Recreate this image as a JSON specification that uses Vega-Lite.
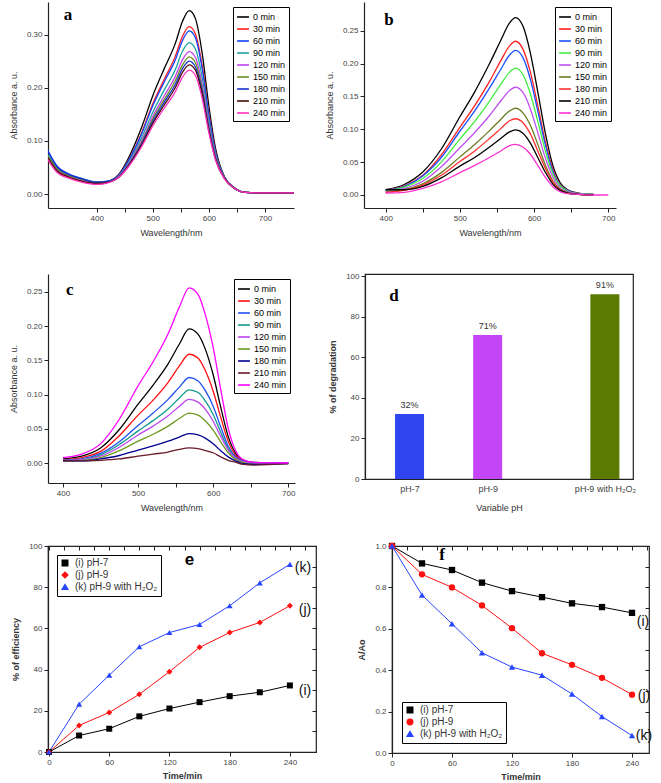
{
"$schema": "https://vega.github.io/schema/vega-lite/v6.json",
"padding": {"left": 9, "top": 2, "right": 0, "bottom": 0},
"background": "white",
"spacing": 34,
"config": {
  "font": "Liberation Sans",
  "view": {"stroke": null},
  "axis": {"grid": false, "labelFontSize": 8, "labelColor": "#444", "titleFontSize": 9, "titleFontWeight": "normal", "titleColor": "#333", "domainColor": "#222", "tickColor": "#222", "tickSize": 4, "domainWidth": 1.2, "labelPadding": 2, "labelFlush": false, "labelOverlap": false}
},
"datasets": {
  "specA": [
    {"w":313,"0 min":0.072,"30 min":0.066,"60 min":0.082,"90 min":0.074,"120 min":0.070,"150 min":0.072,"180 min":0.080,"210 min":0.068,"240 min":0.065},
    {"w":330,"0 min":0.047,"30 min":0.042,"60 min":0.052,"90 min":0.048,"120 min":0.045,"150 min":0.047,"180 min":0.050,"210 min":0.043,"240 min":0.040},
    {"w":350,"0 min":0.035,"30 min":0.031,"60 min":0.038,"90 min":0.036,"120 min":0.034,"150 min":0.035,"180 min":0.037,"210 min":0.032,"240 min":0.030},
    {"w":375,"0 min":0.027,"30 min":0.023,"60 min":0.029,"90 min":0.028,"120 min":0.026,"150 min":0.027,"180 min":0.028,"210 min":0.024,"240 min":0.022},
    {"w":400,"0 min":0.022,"30 min":0.019,"60 min":0.023,"90 min":0.022,"120 min":0.021,"150 min":0.022,"180 min":0.022,"210 min":0.020,"240 min":0.018},
    {"w":420,"0 min":0.024,"30 min":0.022,"60 min":0.024,"90 min":0.024,"120 min":0.023,"150 min":0.023,"180 min":0.024,"210 min":0.022,"240 min":0.021},
    {"w":440,"0 min":0.038,"30 min":0.036,"60 min":0.036,"90 min":0.035,"120 min":0.034,"150 min":0.033,"180 min":0.033,"210 min":0.032,"240 min":0.032},
    {"w":460,"0 min":0.075,"30 min":0.070,"60 min":0.069,"90 min":0.065,"120 min":0.062,"150 min":0.060,"180 min":0.059,"210 min":0.058,"240 min":0.056},
    {"w":480,"0 min":0.125,"30 min":0.115,"60 min":0.113,"90 min":0.106,"120 min":0.100,"150 min":0.097,"180 min":0.094,"210 min":0.092,"240 min":0.089},
    {"w":500,"0 min":0.185,"30 min":0.170,"60 min":0.166,"90 min":0.154,"120 min":0.146,"150 min":0.141,"180 min":0.137,"210 min":0.133,"240 min":0.128},
    {"w":520,"0 min":0.235,"30 min":0.215,"60 min":0.210,"90 min":0.195,"120 min":0.184,"150 min":0.177,"180 min":0.172,"210 min":0.167,"240 min":0.161},
    {"w":540,"0 min":0.283,"30 min":0.259,"60 min":0.252,"90 min":0.234,"120 min":0.221,"150 min":0.213,"180 min":0.206,"210 min":0.200,"240 min":0.192},
    {"w":553,"0 min":0.325,"30 min":0.297,"60 min":0.289,"90 min":0.269,"120 min":0.253,"150 min":0.243,"180 min":0.236,"210 min":0.229,"240 min":0.220},
    {"w":565,"0 min":0.345,"30 min":0.315,"60 min":0.307,"90 min":0.285,"120 min":0.268,"150 min":0.258,"180 min":0.250,"210 min":0.243,"240 min":0.233},
    {"w":576,"0 min":0.330,"30 min":0.301,"60 min":0.294,"90 min":0.273,"120 min":0.257,"150 min":0.247,"180 min":0.239,"210 min":0.233,"240 min":0.223},
    {"w":588,"0 min":0.265,"30 min":0.242,"60 min":0.236,"90 min":0.220,"120 min":0.207,"150 min":0.199,"180 min":0.193,"210 min":0.188,"240 min":0.180},
    {"w":600,"0 min":0.165,"30 min":0.152,"60 min":0.148,"90 min":0.138,"120 min":0.131,"150 min":0.126,"180 min":0.123,"210 min":0.119,"240 min":0.115},
    {"w":612,"0 min":0.085,"30 min":0.079,"60 min":0.077,"90 min":0.073,"120 min":0.070,"150 min":0.068,"180 min":0.066,"210 min":0.065,"240 min":0.063},
    {"w":628,"0 min":0.032,"30 min":0.031,"60 min":0.031,"90 min":0.030,"120 min":0.030,"150 min":0.029,"180 min":0.029,"210 min":0.029,"240 min":0.028},
    {"w":645,"0 min":0.012,"30 min":0.012,"60 min":0.012,"90 min":0.012,"120 min":0.011,"150 min":0.011,"180 min":0.011,"210 min":0.011,"240 min":0.011},
    {"w":665,"0 min":0.003,"30 min":0.003,"60 min":0.003,"90 min":0.003,"120 min":0.003,"150 min":0.003,"180 min":0.003,"210 min":0.003,"240 min":0.003},
    {"w":700,"0 min":0.002,"30 min":0.002,"60 min":0.002,"90 min":0.002,"120 min":0.002,"150 min":0.002,"180 min":0.002,"210 min":0.002,"240 min":0.002},
    {"w":752,"0 min":0.002,"30 min":0.002,"60 min":0.002,"90 min":0.002,"120 min":0.002,"150 min":0.002,"180 min":0.002,"210 min":0.002,"240 min":0.002}
  ],
  "specB": [
    {"w":400,"0 min":0.008,"30 min":0.007,"60 min":0.007,"90 min":0.006,"120 min":0.005,"150 min":0.004,"180 min":0.004,"210 min":0.008,"240 min":0.003},
    {"w":425,"0 min":0.016,"30 min":0.014,"60 min":0.013,"90 min":0.012,"120 min":0.010,"150 min":0.008,"180 min":0.007,"210 min":0.008,"240 min":0.004},
    {"w":450,"0 min":0.035,"30 min":0.030,"60 min":0.029,"90 min":0.025,"120 min":0.021,"150 min":0.017,"180 min":0.015,"210 min":0.013,"240 min":0.010},
    {"w":475,"0 min":0.070,"30 min":0.061,"60 min":0.057,"90 min":0.050,"120 min":0.043,"150 min":0.034,"180 min":0.030,"210 min":0.026,"240 min":0.020},
    {"w":500,"0 min":0.119,"30 min":0.103,"60 min":0.097,"90 min":0.085,"120 min":0.072,"150 min":0.058,"180 min":0.051,"210 min":0.044,"240 min":0.034},
    {"w":520,"0 min":0.157,"30 min":0.136,"60 min":0.128,"90 min":0.112,"120 min":0.095,"150 min":0.077,"180 min":0.067,"210 min":0.057,"240 min":0.045},
    {"w":540,"0 min":0.200,"30 min":0.173,"60 min":0.163,"90 min":0.143,"120 min":0.121,"150 min":0.098,"180 min":0.086,"210 min":0.073,"240 min":0.057},
    {"w":555,"0 min":0.235,"30 min":0.204,"60 min":0.191,"90 min":0.168,"120 min":0.143,"150 min":0.115,"180 min":0.101,"210 min":0.086,"240 min":0.067},
    {"w":567,"0 min":0.262,"30 min":0.227,"60 min":0.213,"90 min":0.187,"120 min":0.159,"150 min":0.128,"180 min":0.113,"210 min":0.096,"240 min":0.075},
    {"w":575,"0 min":0.270,"30 min":0.234,"60 min":0.220,"90 min":0.193,"120 min":0.164,"150 min":0.132,"180 min":0.116,"210 min":0.099,"240 min":0.077},
    {"w":585,"0 min":0.257,"30 min":0.222,"60 min":0.209,"90 min":0.183,"120 min":0.156,"150 min":0.125,"180 min":0.110,"210 min":0.094,"240 min":0.073},
    {"w":595,"0 min":0.216,"30 min":0.187,"60 min":0.176,"90 min":0.154,"120 min":0.131,"150 min":0.106,"180 min":0.093,"210 min":0.079,"240 min":0.062},
    {"w":605,"0 min":0.157,"30 min":0.136,"60 min":0.128,"90 min":0.112,"120 min":0.095,"150 min":0.077,"180 min":0.067,"210 min":0.057,"240 min":0.045},
    {"w":615,"0 min":0.095,"30 min":0.082,"60 min":0.077,"90 min":0.068,"120 min":0.057,"150 min":0.046,"180 min":0.041,"210 min":0.035,"240 min":0.027},
    {"w":625,"0 min":0.046,"30 min":0.040,"60 min":0.037,"90 min":0.033,"120 min":0.028,"150 min":0.022,"180 min":0.020,"210 min":0.017,"240 min":0.013},
    {"w":635,"0 min":0.019,"30 min":0.016,"60 min":0.015,"90 min":0.014,"120 min":0.011,"150 min":0.009,"180 min":0.008,"210 min":0.007,"240 min":0.005},
    {"w":645,"0 min":0.008,"30 min":0.007,"60 min":0.007,"90 min":0.006,"120 min":0.005,"150 min":0.004,"180 min":0.003,"210 min":0.003,"240 min":0.002},
    {"w":660,"0 min":0.003,"30 min":0.002,"60 min":0.002,"90 min":0.002,"120 min":0.002,"150 min":0.001,"180 min":0.001,"210 min":0.001,"240 min":0.001},
    {"w":680,"0 min":0.001,"30 min":0.001,"60 min":0.001,"90 min":0.001,"120 min":0.0,"150 min":0.0,"180 min":0.0,"210 min":0.0,"240 min":0.0},
    {"w":700,"0 min":null,"30 min":null,"60 min":null,"90 min":null,"120 min":null,"150 min":null,"180 min":null,"210 min":null,"240 min":0.0}
  ],
  "specC": [
    {"w":400,"0 min":0.006,"30 min":0.005,"60 min":0.004,"90 min":0.004,"120 min":0.004,"150 min":0.003,"180 min":0.003,"210 min":0.003,"240 min":0.008},
    {"w":425,"0 min":0.010,"30 min":0.008,"60 min":0.006,"90 min":0.005,"120 min":0.005,"150 min":0.004,"180 min":0.003,"210 min":0.003,"240 min":0.013},
    {"w":450,"0 min":0.022,"30 min":0.017,"60 min":0.014,"90 min":0.012,"120 min":0.010,"150 min":0.008,"180 min":0.006,"210 min":0.004,"240 min":0.028},
    {"w":475,"0 min":0.049,"30 min":0.040,"60 min":0.031,"90 min":0.027,"120 min":0.023,"150 min":0.018,"180 min":0.011,"210 min":0.006,"240 min":0.064},
    {"w":500,"0 min":0.086,"30 min":0.070,"60 min":0.055,"90 min":0.047,"120 min":0.041,"150 min":0.032,"180 min":0.019,"210 min":0.010,"240 min":0.113},
    {"w":520,"0 min":0.114,"30 min":0.092,"60 min":0.073,"90 min":0.062,"120 min":0.054,"150 min":0.042,"180 min":0.025,"210 min":0.013,"240 min":0.148},
    {"w":540,"0 min":0.145,"30 min":0.118,"60 min":0.093,"90 min":0.079,"120 min":0.069,"150 min":0.054,"180 min":0.032,"210 min":0.016,"240 min":0.189},
    {"w":555,"0 min":0.174,"30 min":0.142,"60 min":0.111,"90 min":0.095,"120 min":0.083,"150 min":0.065,"180 min":0.038,"210 min":0.020,"240 min":0.228},
    {"w":568,"0 min":0.196,"30 min":0.159,"60 min":0.125,"90 min":0.107,"120 min":0.093,"150 min":0.073,"180 min":0.043,"210 min":0.022,"240 min":0.256},
    {"w":580,"0 min":0.188,"30 min":0.153,"60 min":0.120,"90 min":0.103,"120 min":0.089,"150 min":0.070,"180 min":0.041,"210 min":0.021,"240 min":0.246},
    {"w":590,"0 min":0.165,"30 min":0.134,"60 min":0.105,"90 min":0.090,"120 min":0.078,"150 min":0.061,"180 min":0.036,"210 min":0.018,"240 min":0.215},
    {"w":600,"0 min":0.129,"30 min":0.105,"60 min":0.083,"90 min":0.071,"120 min":0.061,"150 min":0.048,"180 min":0.028,"210 min":0.015,"240 min":0.169},
    {"w":610,"0 min":0.082,"30 min":0.067,"60 min":0.053,"90 min":0.045,"120 min":0.039,"150 min":0.031,"180 min":0.018,"210 min":0.009,"240 min":0.108},
    {"w":620,"0 min":0.039,"30 min":0.032,"60 min":0.025,"90 min":0.021,"120 min":0.019,"150 min":0.015,"180 min":0.009,"210 min":0.004,"240 min":0.051},
    {"w":630,"0 min":0.014,"30 min":0.011,"60 min":0.009,"90 min":0.007,"120 min":0.007,"150 min":0.005,"180 min":0.003,"210 min":0.001,"240 min":0.018},
    {"w":640,"0 min":0.004,"30 min":0.003,"60 min":0.003,"90 min":0.002,"120 min":0.002,"150 min":0.001,"180 min":-0.001,"210 min":-0.002,"240 min":0.005},
    {"w":655,"0 min":0.001,"30 min":0.0,"60 min":0.0,"90 min":0.0,"120 min":0.0,"150 min":-0.002,"180 min":-0.002,"210 min":-0.003,"240 min":0.001},
    {"w":700,"0 min":0.0,"30 min":0.0,"60 min":0.0,"90 min":0.0,"120 min":0.0,"150 min":-0.001,"180 min":-0.001,"210 min":-0.001,"240 min":0.0}
  ],
  "eff": [
    {"t":0,"(i) pH-7":0,"(j) pH-9":0,"(k) pH-9 with H₂O₂":0},
    {"t":30,"(i) pH-7":8,"(j) pH-9":12.9,"(k) pH-9 with H₂O₂":23.2},
    {"t":60,"(i) pH-7":11.3,"(j) pH-9":19.2,"(k) pH-9 with H₂O₂":37.3},
    {"t":90,"(i) pH-7":17.3,"(j) pH-9":28,"(k) pH-9 with H₂O₂":51.1},
    {"t":120,"(i) pH-7":21.1,"(j) pH-9":39,"(k) pH-9 with H₂O₂":58},
    {"t":150,"(i) pH-7":24.2,"(j) pH-9":50.8,"(k) pH-9 with H₂O₂":61.9},
    {"t":180,"(i) pH-7":27.1,"(j) pH-9":58,"(k) pH-9 with H₂O₂":71},
    {"t":210,"(i) pH-7":29,"(j) pH-9":62.9,"(k) pH-9 with H₂O₂":82.1},
    {"t":240,"(i) pH-7":32.3,"(j) pH-9":71,"(k) pH-9 with H₂O₂":91.1}
  ],
  "ratio": [
    {"t":0,"(i) pH-7":1,"(j) pH-9":1,"(k) pH-9 with H₂O₂":1},
    {"t":30,"(i) pH-7":0.916,"(j) pH-9":0.863,"(k) pH-9 with H₂O₂":0.763},
    {"t":60,"(i) pH-7":0.884,"(j) pH-9":0.80,"(k) pH-9 with H₂O₂":0.624},
    {"t":90,"(i) pH-7":0.823,"(j) pH-9":0.713,"(k) pH-9 with H₂O₂":0.484},
    {"t":120,"(i) pH-7":0.782,"(j) pH-9":0.603,"(k) pH-9 with H₂O₂":0.415},
    {"t":150,"(i) pH-7":0.753,"(j) pH-9":0.482,"(k) pH-9 with H₂O₂":0.376},
    {"t":180,"(i) pH-7":0.723,"(j) pH-9":0.426,"(k) pH-9 with H₂O₂":0.285},
    {"t":210,"(i) pH-7":0.705,"(j) pH-9":0.363,"(k) pH-9 with H₂O₂":0.176},
    {"t":240,"(i) pH-7":0.677,"(j) pH-9":0.282,"(k) pH-9 with H₂O₂":0.084}
  ]
},
"resolve": {"scale": {"color": "independent", "shape": "independent", "x": "independent", "y": "independent"}, "legend": {"color": "independent", "shape": "independent"}},
"vconcat": [
 {"hconcat": [
  {"width": 246, "height": 206,
   "layer": [
    {"data": {"name": "specA"},
     "transform": [{"fold": ["0 min","30 min","60 min","90 min","120 min","150 min","180 min","210 min","240 min"], "as": ["t","A"]}],
     "mark": {"type": "line", "strokeWidth": 1.3, "interpolate": "monotone", "clip": true},
     "encoding": {
      "x": {"field": "w", "type": "quantitative", "scale": {"domain": [313.2, 751.7], "nice": false, "zero": false},
            "axis": {"orient": "bottom", "title": "Wavelength/nm", "values": [400,450,500,550,600,650,700], "labelExpr": "datum.value % 100 === 0 ? datum.label : ''", "labelOverlap": false, "titlePadding": 6, "zindex": 2}},
      "y": {"field": "A", "type": "quantitative", "scale": {"domain": [-0.0263, 0.3613], "nice": false, "zero": false},
            "axis": {"title": "Absorbance a. u.", "values": [0,0.025,0.05,0.075,0.1,0.125,0.15,0.175,0.2,0.225,0.25,0.275,0.3,0.325,0.35], "labelExpr": "abs(datum.value*20 - round(datum.value*20)) < 0.001 ? format(datum.value, '.2f') : ''", "labelOverlap": false, "titlePadding": 8}},
      "color": {"field": "t", "type": "nominal",
        "scale": {"domain": ["0 min","30 min","60 min","90 min","120 min","150 min","180 min","210 min","240 min"], "range": ["#000000","#ff2020","#1040ff","#20a0a0","#c040f0","#6b8e23","#1830d0","#4a0a0a","#ff30c0"]},
        "legend": {"orient": "top-right", "offset": 5, "title": null, "strokeColor": "#000", "fillColor": "#fff", "padding": 3, "labelFontSize": 9, "labelColor": "#000", "symbolType": "stroke", "symbolStrokeWidth": 1.6, "symbolSize": 140, "rowPadding": 0, "labelOffset": 3}}
     }},
    {"data": {"values": [{"w": 349, "A": 0.337, "lab": "a"}]},
     "mark": {"type": "text", "font": "Liberation Serif", "fontWeight": "bold", "fontSize": 17},
     "encoding": {"x": {"field": "w", "type": "quantitative"}, "y": {"field": "A", "type": "quantitative"}, "text": {"field": "lab"}}}
   ]},
  {"width": 252, "height": 206,
   "layer": [
    {"data": {"name": "specB"},
     "transform": [{"fold": ["0 min","30 min","60 min","90 min","120 min","150 min","180 min","210 min","240 min"], "as": ["t","A"]}],
     "mark": {"type": "line", "strokeWidth": 1.3, "interpolate": "monotone", "clip": true},
     "encoding": {
      "x": {"field": "w", "type": "quantitative", "scale": {"domain": [370.8, 710.4], "nice": false, "zero": false},
            "axis": {"title": "Wavelength/nm", "values": [400,450,500,550,600,650,700], "labelExpr": "datum.value % 100 === 0 ? datum.label : ''", "labelOverlap": false, "titlePadding": 6}},
      "y": {"field": "A", "type": "quantitative", "scale": {"domain": [-0.0198, 0.2937], "nice": false, "zero": false},
            "axis": {"title": "Absorbance a. u.", "values": [0,0.025,0.05,0.075,0.1,0.125,0.15,0.175,0.2,0.225,0.25,0.275], "labelExpr": "abs(datum.value*20 - round(datum.value*20)) < 0.001 ? format(datum.value, '.2f') : ''", "labelOverlap": false, "titlePadding": 8}},
      "color": {"field": "t", "type": "nominal",
        "scale": {"domain": ["0 min","30 min","60 min","90 min","120 min","150 min","180 min","210 min","240 min"], "range": ["#000000","#ff2020","#1a50ff","#40ee40","#c050f0","#6b7d23","#ff3030","#000000","#ff30d0"]},
        "legend": {"orient": "top-right", "offset": 5, "title": null, "strokeColor": "#000", "fillColor": "#fff", "padding": 3, "labelFontSize": 9, "labelColor": "#000", "symbolType": "stroke", "symbolStrokeWidth": 1.6, "symbolSize": 140, "rowPadding": 0, "labelOffset": 3}}
     }},
    {"data": {"values": [{"w": 404.5, "A": 0.266, "lab": "b"}]},
     "mark": {"type": "text", "font": "Liberation Serif", "fontWeight": "bold", "fontSize": 17},
     "encoding": {"x": {"field": "w", "type": "quantitative"}, "y": {"field": "A", "type": "quantitative"}, "text": {"field": "lab"}}}
   ]}
 ], "spacing": 70, "bounds": "flush",
 "resolve": {"scale": {"color": "independent", "x": "independent", "y": "independent"}, "legend": {"color": "independent"}}},
 {"vconcat": [
 {"hconcat": [
  {"width": 247, "height": 209,
   "layer": [
    {"data": {"name": "specC"},
     "transform": [{"fold": ["0 min","30 min","60 min","90 min","120 min","150 min","180 min","210 min","240 min"], "as": ["t","A"]}],
     "mark": {"type": "line", "strokeWidth": 1.3, "interpolate": "monotone", "clip": true},
     "encoding": {
      "x": {"field": "w", "type": "quantitative", "scale": {"domain": [380, 709], "nice": false, "zero": false},
            "axis": {"title": "Wavelength/nm", "values": [400,450,500,550,600,650,700], "labelExpr": "datum.value % 100 === 0 ? datum.label : ''", "labelOverlap": false, "titlePadding": 6}},
      "y": {"field": "A", "type": "quantitative", "scale": {"domain": [-0.0292, 0.2763], "nice": false, "zero": false},
            "axis": {"title": "Absorbance a. u.", "values": [0,0.025,0.05,0.075,0.1,0.125,0.15,0.175,0.2,0.225,0.25], "labelExpr": "abs(datum.value*20 - round(datum.value*20)) < 0.001 ? format(datum.value, '.2f') : ''", "labelOverlap": false, "titlePadding": 8}},
      "color": {"field": "t", "type": "nominal",
        "scale": {"domain": ["0 min","30 min","60 min","90 min","120 min","150 min","180 min","210 min","240 min"], "range": ["#000000","#ff1010","#2050f0","#109a8a","#bb44ee","#6f9a20","#000090","#6a1a2a","#ff00ff"]},
        "legend": {"orient": "top-right", "offset": 5, "title": null, "strokeColor": "#000", "fillColor": "#fff", "padding": 3, "labelFontSize": 9, "labelColor": "#000", "symbolType": "stroke", "symbolStrokeWidth": 1.6, "symbolSize": 140, "rowPadding": 0, "labelOffset": 3}}
     }},
    {"data": {"values": [{"w": 409, "A": 0.253, "lab": "c"}]},
     "mark": {"type": "text", "font": "Liberation Serif", "fontWeight": "bold", "fontSize": 17},
     "encoding": {"x": {"field": "w", "type": "quantitative"}, "y": {"field": "A", "type": "quantitative"}, "text": {"field": "lab"}}}
   ]},
  {"width": 268, "height": 205,
   "view": {"stroke": "#222", "strokeWidth": 1.2},
   "layer": [
    {"data": {"values": [{"cat": "pH-7", "pos": 1, "v": 32, "lab": "32%"}, {"cat": "pH-9", "pos": 2, "v": 71, "lab": "71%"}, {"cat": "pH-9 with H₂O₂", "pos": 3.5, "v": 91, "lab": "91%"}]},
     "layer": [
      {"mark": {"type": "bar", "size": 29},
       "encoding": {
        "x": {"field": "pos", "type": "quantitative", "scale": {"domain": [0.494, 3.796], "nice": false, "zero": false},
              "axis": {"title": "Variable pH", "values": [1, 2, 3.5], "ticks": false, "labelExpr": "datum.value == 1 ? 'pH-7' : datum.value == 2 ? 'pH-9' : 'pH-9 with H₂O₂'", "labelOverlap": false, "labelPadding": 5, "titlePadding": 10, "labelFontSize": 9}},
        "y": {"field": "v", "type": "quantitative", "scale": {"domain": [0, 101], "nice": false},
              "axis": {"title": "% of degradation", "titleFontWeight": "bold", "values": [0,20,40,60,80,100], "labelOverlap": false, "titlePadding": 8}},
        "color": {"field": "cat", "type": "nominal", "scale": {"domain": ["pH-7","pH-9","pH-9 with H₂O₂"], "range": ["#2f45f2","#c444f8","#5a7a00"]}, "legend": null}
       }},
      {"mark": {"type": "text", "dy": -9, "fontSize": 9, "color": "#333"},
       "encoding": {"x": {"field": "pos", "type": "quantitative"}, "y": {"field": "v", "type": "quantitative"}, "text": {"field": "lab"}}}
     ]},
    {"data": {"values": [{"pos": 0.8, "v": 90.2, "lab": "d"}]},
     "mark": {"type": "text", "font": "Liberation Serif", "fontWeight": "bold", "fontSize": 17},
     "encoding": {"x": {"field": "pos", "type": "quantitative"}, "y": {"field": "v", "type": "quantitative"}, "text": {"field": "lab"}}}
   ]}
 ], "spacing": 70, "bounds": "flush",
 "resolve": {"scale": {"color": "independent", "x": "independent", "y": "independent"}, "legend": {"color": "independent"}}},
 {"hconcat": [
  {"width": 268, "height": 206,
   "view": {"stroke": "#222", "strokeWidth": 1.2},
   "resolve": {"axis": {"x": "independent", "y": "independent"}},
   "layer": [
    {"data": {"name": "eff"},
     "transform": [{"fold": ["(i) pH-7","(j) pH-9","(k) pH-9 with H₂O₂"], "as": ["s","v"]}],
     "layer": [
      {"mark": {"type": "line", "strokeWidth": 1},
       "encoding": {
        "x": {"field": "t", "type": "quantitative", "scale": {"domain": [-1, 266], "nice": false, "zero": false},
              "axis": {"title": "Time/min", "titleFontWeight": "bold", "values": [0,15,30,45,60,75,90,105,120,135,150,165,180,195,210,225,240,255], "labelExpr": "datum.value % 30 === 0 ? datum.label : ''", "labelOverlap": false, "titlePadding": 5}},
        "y": {"field": "v", "type": "quantitative", "scale": {"domain": [0, 100], "nice": false},
              "axis": {"title": "% of efficiency", "titleFontWeight": "bold", "values": [0,10,20,30,40,50,60,70,80,90,100], "labelExpr": "datum.value % 20 === 0 ? datum.label : ''", "labelOverlap": false, "titlePadding": 8}},
        "color": {"field": "s", "type": "nominal", "scale": {"domain": ["(i) pH-7","(j) pH-9","(k) pH-9 with H₂O₂"], "range": ["#000000","#ff1010","#2845ff"]},
          "legend": {"orient": "top-left", "offset": 9, "title": null, "strokeColor": "#000", "fillColor": "#fff", "padding": 3, "labelFontSize": 10, "labelColor": "#333", "symbolSize": 30, "rowPadding": 0, "labelOffset": 5}}
       }},
      {"mark": {"type": "point", "filled": true, "opacity": 1, "size": 36},
       "encoding": {
        "x": {"field": "t", "type": "quantitative"},
        "y": {"field": "v", "type": "quantitative"},
        "color": {"field": "s", "type": "nominal", "scale": {"domain": ["(i) pH-7","(j) pH-9","(k) pH-9 with H₂O₂"], "range": ["#000000","#ff1010","#2845ff"]},
          "legend": {"orient": "top-left", "offset": 9, "title": null, "strokeColor": "#000", "fillColor": "#fff", "padding": 3, "labelFontSize": 10, "labelColor": "#333", "symbolSize": 30, "rowPadding": 0, "labelOffset": 5}},
        "shape": {"field": "s", "type": "nominal", "scale": {"domain": ["(i) pH-7","(j) pH-9","(k) pH-9 with H₂O₂"], "range": ["square","diamond","triangle-up"]},
          "legend": {"orient": "top-left", "offset": 9, "title": null, "strokeColor": "#000", "fillColor": "#fff", "padding": 3, "labelFontSize": 10, "labelColor": "#333", "symbolSize": 30, "rowPadding": 0, "labelOffset": 5}}
       }}
     ]},
    {"data": {"values": [{"t": 253, "v": 89.3, "lab": "(k)"}, {"t": 255, "v": 68.9, "lab": "(j)"}, {"t": 255, "v": 29.6, "lab": "(i)"}]},
     "mark": {"type": "text", "fontSize": 14, "color": "#111"},
     "encoding": {"x": {"field": "t", "type": "quantitative", "axis": null}, "y": {"field": "v", "type": "quantitative", "axis": null}, "text": {"field": "lab"}}},
    {"data": {"values": [{"t": 140, "v": 93.2, "lab": "e"}]},
     "mark": {"type": "text", "fontWeight": "bold", "fontSize": 17},
     "encoding": {"x": {"field": "t", "type": "quantitative", "axis": null}, "y": {"field": "v", "type": "quantitative", "axis": null}, "text": {"field": "lab"}}},
    {"data": {"values": [{"t": 0, "v": 0}]},
     "mark": {"type": "point", "opacity": 0},
     "encoding": {
      "x": {"field": "t", "type": "quantitative", "axis": {"orient": "top", "title": null, "labels": false, "domain": false, "tickSize": -4, "values": [0,15,30,45,60,75,90,105,120,135,150,165,180,195,210,225,240,255]}},
      "y": {"field": "v", "type": "quantitative", "axis": {"orient": "right", "title": null, "labels": false, "domain": false, "tickSize": -4, "values": [0,10,20,30,40,50,60,70,80,90,100]}}}}
   ]},
  {"width": 257, "height": 207,
   "view": {"stroke": "#222", "strokeWidth": 1.2},
   "resolve": {"axis": {"x": "independent", "y": "independent"}},
   "layer": [
    {"data": {"name": "ratio"},
     "transform": [{"fold": ["(i) pH-7","(j) pH-9","(k) pH-9 with H₂O₂"], "as": ["s","v"]}],
     "layer": [
      {"mark": {"type": "line", "strokeWidth": 1},
       "encoding": {
        "x": {"field": "t", "type": "quantitative", "scale": {"domain": [0, 257], "nice": false, "zero": false},
              "axis": {"title": "Time/min", "titleFontWeight": "bold", "values": [0,15,30,45,60,75,90,105,120,135,150,165,180,195,210,225,240,255], "labelExpr": "datum.value % 30 === 0 ? datum.label : ''", "labelOverlap": false, "titlePadding": 5}},
        "y": {"field": "v", "type": "quantitative", "scale": {"domain": [0, 1], "nice": false},
              "axis": {"title": "A/Ao", "titleFontWeight": "bold", "values": [0,0.1,0.2,0.3,0.4,0.5,0.6,0.7,0.8,0.9,1.0], "labelExpr": "abs(datum.value*5 - round(datum.value*5)) < 0.001 ? format(datum.value, '.1f') : ''", "labelOverlap": false, "titlePadding": 8}},
        "color": {"field": "s", "type": "nominal", "scale": {"domain": ["(i) pH-7","(j) pH-9","(k) pH-9 with H₂O₂"], "range": ["#000000","#ff1010","#2845ff"]},
          "legend": {"orient": "bottom-left", "offset": 10, "title": null, "strokeColor": "#000", "fillColor": "#fff", "padding": 3, "labelFontSize": 10, "labelColor": "#333", "symbolSize": 30, "rowPadding": 0, "labelOffset": 5}}
       }},
      {"mark": {"type": "point", "filled": true, "opacity": 1, "size": 40},
       "encoding": {
        "x": {"field": "t", "type": "quantitative"},
        "y": {"field": "v", "type": "quantitative"},
        "color": {"field": "s", "type": "nominal", "scale": {"domain": ["(i) pH-7","(j) pH-9","(k) pH-9 with H₂O₂"], "range": ["#000000","#ff1010","#2845ff"]},
          "legend": {"orient": "bottom-left", "offset": 10, "title": null, "strokeColor": "#000", "fillColor": "#fff", "padding": 3, "labelFontSize": 10, "labelColor": "#333", "symbolSize": 30, "rowPadding": 0, "labelOffset": 5}},
        "shape": {"field": "s", "type": "nominal", "scale": {"domain": ["(i) pH-7","(j) pH-9","(k) pH-9 with H₂O₂"], "range": ["square","circle","triangle-up"]},
          "legend": {"orient": "bottom-left", "offset": 10, "title": null, "strokeColor": "#000", "fillColor": "#fff", "padding": 3, "labelFontSize": 10, "labelColor": "#333", "symbolSize": 30, "rowPadding": 0, "labelOffset": 5}}
       }}
     ]},
    {"data": {"values": [{"t": 251, "v": 0.633, "lab": "(i)"}, {"t": 252, "v": 0.275, "lab": "(j)"}, {"t": 252, "v": 0.082, "lab": "(k)"}]},
     "mark": {"type": "text", "fontSize": 14, "color": "#111"},
     "encoding": {"x": {"field": "t", "type": "quantitative", "axis": null}, "y": {"field": "v", "type": "quantitative", "axis": null}, "text": {"field": "lab"}}},
    {"data": {"values": [{"t": 50, "v": 0.957, "lab": "f"}]},
     "mark": {"type": "text", "font": "Liberation Serif", "fontWeight": "bold", "fontSize": 17},
     "encoding": {"x": {"field": "t", "type": "quantitative", "axis": null}, "y": {"field": "v", "type": "quantitative", "axis": null}, "text": {"field": "lab"}}},
    {"data": {"values": [{"t": 0, "v": 0}]},
     "mark": {"type": "point", "opacity": 0},
     "encoding": {
      "x": {"field": "t", "type": "quantitative", "axis": {"orient": "top", "title": null, "labels": false, "domain": false, "tickSize": -4, "values": [0,15,30,45,60,75,90,105,120,135,150,165,180,195,210,225,240,255]}},
      "y": {"field": "v", "type": "quantitative", "axis": {"orient": "right", "title": null, "labels": false, "domain": false, "tickSize": -4, "values": [0,0.1,0.2,0.3,0.4,0.5,0.6,0.7,0.8,0.9,1.0]}}}}
   ]}
 ], "spacing": 76, "bounds": "flush",
 "resolve": {"scale": {"color": "independent", "shape": "independent", "x": "independent", "y": "independent"}, "legend": {"color": "independent", "shape": "independent"}}}
 ], "spacing": 28,
 "resolve": {"scale": {"color": "independent", "shape": "independent", "x": "independent", "y": "independent"}, "legend": {"color": "independent", "shape": "independent"}}}
]
}
